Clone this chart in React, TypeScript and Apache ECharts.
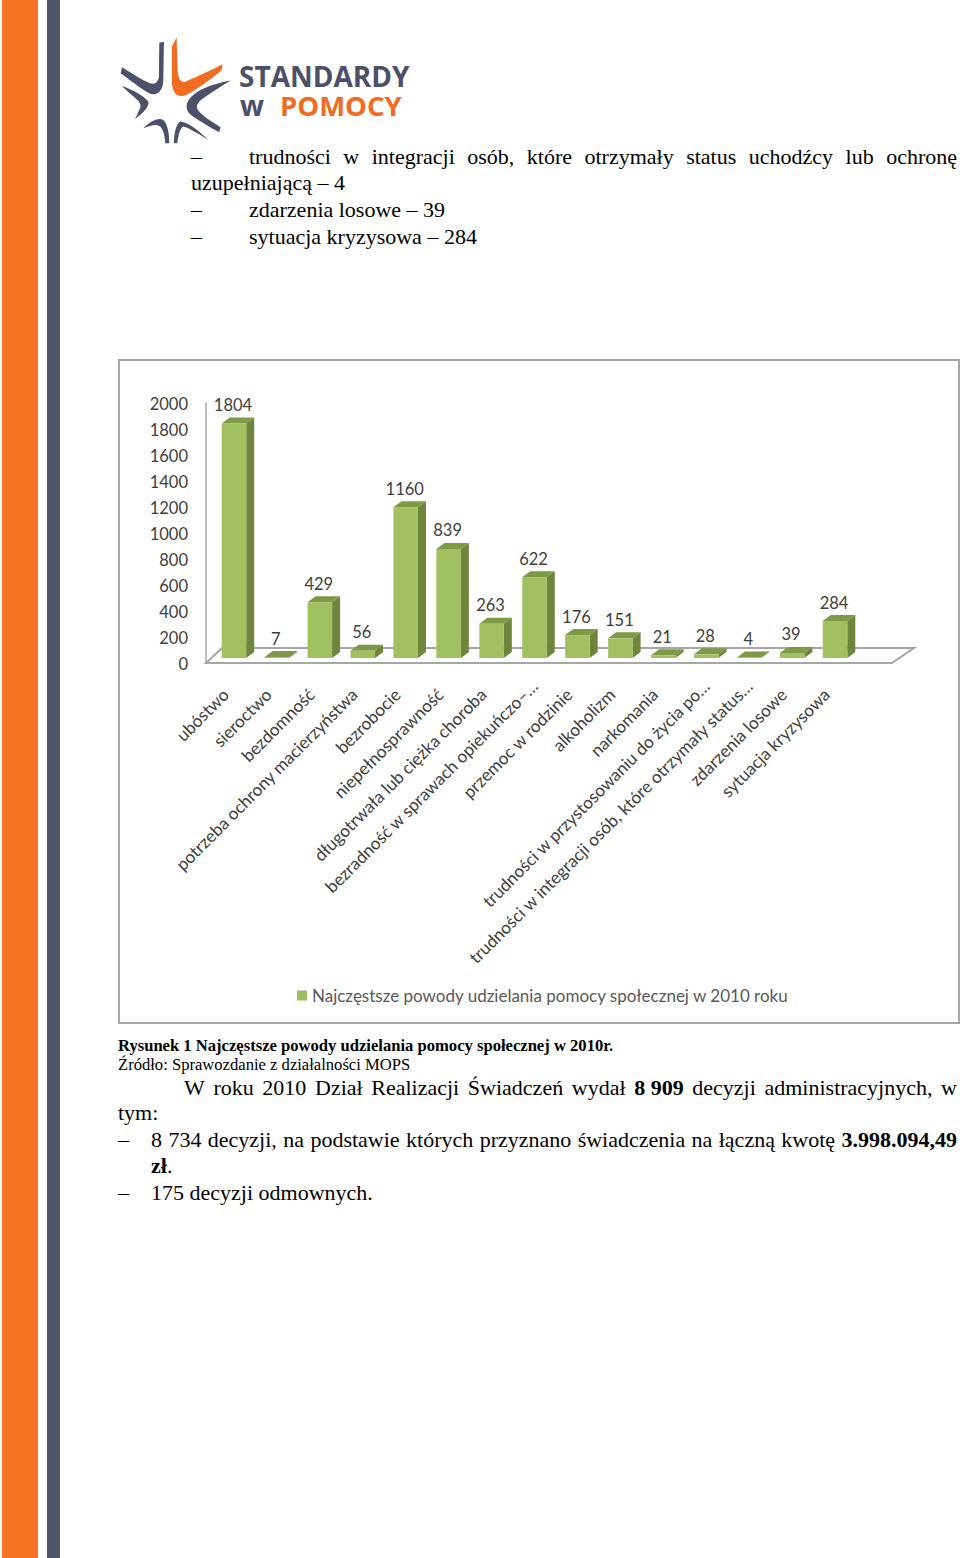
import React, { useEffect, useRef } from "react";
import * as echarts from "echarts";

const categories = ["ubóstwo","sieroctwo","bezdomność","potrzeba ochrony macierzyństwa","bezrobocie","niepełnosprawność","długotrwała lub ciężka choroba","bezradność w sprawach opiekuńczo–…","przemoc w rodzinie","alkoholizm","narkomania","trudności w przystosowaniu do życia po…","trudności w integracji osób, które otrzymały status…","zdarzenia losowe","sytuacja kryzysowa"];
const values = [1804,7,429,56,1160,839,263,622,176,151,21,28,4,39,284];
const seriesName = "Najczęstsze powody udzielania pomocy społecznej w 2010 roku";

type Run = [string, boolean?];
const SERIF = "'Liberation Serif'";
const BODY = 22;
const SMALL = 16.6;

const logoOrange = "M216 80 L230 52 L233 140 C233 175 240 190 258 185 C290 170 335 150 368 133 L366 150 C330 180 290 210 258 225 C235 235 218 222 216 190 Z";
const logoA = "M178 68 L192 65 L190 185 C188 215 170 230 148 220 C120 205 90 180 62 160 L66 142 C95 160 125 180 150 190 C168 195 175 185 177 170 Z";
const logoB = "M392 182 C350 190 300 205 275 230 C255 250 255 272 275 287 C300 305 335 325 358 337 L362 322 C335 305 310 290 295 272 C285 258 295 245 310 235 C335 218 365 198 392 182 Z";
const logoC = "M65 198 C95 208 130 225 145 245 C150 258 130 280 105 298 L118 270 C125 258 122 248 110 238 C95 225 80 212 65 198 Z";
const logoD = "M130 325 C150 305 175 292 190 300 C205 315 208 345 208 370 L196 370 C194 345 190 325 178 318 C165 312 150 318 130 325 Z";
const logoE = "M222 370 C222 340 228 315 240 305 C262 305 300 335 325 360 C300 345 270 325 250 320 C240 325 236 345 232 370 Z";
[["lo",logoOrange],["la",logoA],["lb",logoB],["lc",logoC],["ld",logoD],["le",logoE]].forEach(([n,d]) =>
  echarts.graphic.registerShape(n, echarts.graphic.extendPath(d as any, {}) as any));

function justify(runs: Run[], x0: number, x1: number | null, y: number, size = BODY) {
  const ctx = document.createElement("canvas").getContext("2d")!;
  const font = (b?: boolean) => `${b ? "bold " : ""}${size}px ${SERIF}`;
  const widths = runs.map(([t, b]) => { ctx.font = font(b); return ctx.measureText(t).width; });
  const total = widths.reduce((a, b) => a + b, 0);
  ctx.font = font();
  const gap = x1 === null ? ctx.measureText(" ").width : (x1 - x0 - total) / (runs.length - 1);
  let x = x0;
  return runs.map(([t, b], i) => {
    const el = { type: "text", x, y, z: 5, style: { text: t, font: font(b), fill: "#000", verticalAlign: "middle", textVerticalAlign: "middle" } };
    x += widths[i] + gap;
    return el;
  });
}
const w = (s: string, b?: boolean): Run[] => s.split(" ").map((t) => [t, b] as Run);

export default function App() {
  const ref = useRef<HTMLDivElement>(null);
  useEffect(() => {
    const chart = echarts.init(ref.current!, null, { renderer: "svg" });
    const logo = (shape: string, fill: string) => ({ type: shape, x: 100, y: 20, scaleX: 1 / 3, scaleY: 1 / 3, style: { fill } });
    const graphic: any[] = [
      { type: "rect", shape: { x: 2, y: 0, width: 36, height: 1558 }, style: { fill: "#F47321" } },
      { type: "rect", shape: { x: 47, y: 0, width: 13, height: 1558 }, style: { fill: "#4F5468" } },
      logo("lo", "#F26B22"), logo("la", "#4C5068"), logo("lb", "#4C5068"), logo("lc", "#4C5068"), logo("ld", "#4C5068"), logo("le", "#4C5068"),
      { type: "text", x: 239, y: 76, style: { text: "STANDARDY", font: "700 28px 'Open Sans'", fill: "#4C5068", verticalAlign: "middle", textVerticalAlign: "middle" } },
      { type: "text", x: 240, y: 105, style: { text: "w", font: "700 28px 'Open Sans'", fill: "#4C5068", verticalAlign: "middle", textVerticalAlign: "middle" } },
      { type: "text", x: 280, y: 105, style: { text: "POMOCY", font: "700 27.5px 'Open Sans'", fill: "#F26B22", verticalAlign: "middle", textVerticalAlign: "middle" } },
      ...justify([["–"]], 191, null, 156.5),
      ...justify(w("trudności w integracji osób, które otrzymały status uchodźcy lub ochronę"), 249, 957, 156.5),
      ...justify(w("uzupełniającą – 4"), 191, null, 182.5),
      ...justify([["–"]], 191, null, 209.5),
      ...justify(w("zdarzenia losowe – 39"), 249, null, 209.5),
      ...justify([["–"]], 191, null, 236.5),
      ...justify(w("sytuacja kryzysowa – 284"), 249, null, 236.5),
      { type: "rect", shape: { x: 119, y: 360, width: 840, height: 663 }, z: 0, style: { fill: "#fff", stroke: "#A6A6A6", lineWidth: 2 } },
      { type: "polygon", z: 1, shape: { points: [[206, 663], [222, 648], [914, 648], [892, 663]] }, style: { fill: "#fff", stroke: "#A6A6A6", lineWidth: 2 } },
      ...justify(w("Rysunek 1 Najczęstsze powody udzielania pomocy społecznej w 2010r.", true), 118, null, 1045.5, SMALL),
      ...justify(w("Źródło: Sprawozdanie z działalności MOPS"), 118, null, 1064.5, SMALL),
      ...justify([...w("W roku 2010 Dział Realizacji Świadczeń wydał"), ["8 909", true] as Run, ...w("decyzji administracyjnych, w")], 184, 957, 1087),
      ...justify(w("tym:"), 118, null, 1112.5),
      ...justify([["–"]], 118, null, 1139.5),
      ...justify([...w("8 734 decyzji, na podstawie których przyznano świadczenia na łączną kwotę"), ...w("3.998.094,49", true)], 151, 957, 1139.5),
      ...justify([["zł", true]], 151, null, 1165.5),
      { type: "text", x: 167, y: 1165.5, z: 5, style: { text: ".", font: `${BODY}px ${SERIF}`, fill: "#000", verticalAlign: "middle", textVerticalAlign: "middle" } },
      ...justify([["–"]], 118, null, 1192.5),
      ...justify(w("175 decyzji odmownych."), 151, null, 1192.5),
    ];
    const labelBase = { fontFamily: "Lato", fontSize: 17.2, color: "#404040" };
    chart.setOption({
      animation: false,
      backgroundColor: "#fff",
      graphic: { elements: graphic },
      legend: {
        left: 292, top: 982, data: [seriesName], itemWidth: 10, itemHeight: 10, itemGap: 5, icon: "rect",
        textStyle: { fontFamily: "Lato", fontSize: 17, color: "#595959" },
      },
      grid: { left: 212.5, width: 644, top: 403, height: 260 },
      xAxis: {
        type: "category", data: categories, axisLine: { show: false }, axisTick: { show: false },
        axisLabel: {
          interval: 0, rotate: 45, margin: 20, ...labelBase,
          formatter: (s: string) => (s.endsWith("…") ? `{cut|${s}}` : `{full|${s}}`),
          rich: {
            cut: { ...labelBase, padding: [0, 0, 0, 0] },
            full: { ...labelBase, padding: [0, 12, 0, 0] },
          },
        },
      },
      yAxis: {
        type: "value", min: 0, max: 2000, interval: 200, offset: 6.5,
        axisLine: { show: true, lineStyle: { color: "#A6A6A6", width: 1.5 } }, axisTick: { show: false }, splitLine: { show: false },
        axisLabel: {
          margin: 18, fontFamily: "Lato", fontSize: 16.5, color: "#404040",
          formatter: (v: number) => `{n|${v}}`,
          rich: { n: { fontFamily: "Lato", fontSize: 16.5, color: "#404040", padding: [2, 0, 0, 0] } },
        },
      },
      series: [{
        type: "custom", name: seriesName, z: 3,
        itemStyle: { color: "#9EBD5C" },
        encode: { x: 0, y: 1 },
        data: values.map((v, i) => [i, v]),
        renderItem: (_p: any, api: any) => {
          const v = api.value(1);
          const p = api.coord([api.value(0), v]);
          const bw = 24.5, dx = 8, dy = 6, lift = 5;
          const l = p[0] - bw / 2, r = l + bw, t = p[1] - lift;
          const b = api.coord([api.value(0), 0])[1] - lift;
          return {
            type: "group",
            children: [
              { type: "polygon", shape: { points: [[l, t], [r, t], [r + dx, t - dy], [l + dx, t - dy]] }, style: { fill: "#7D9A46" } },
              { type: "polygon", shape: { points: [[r, t], [r + dx, t - dy], [r + dx, b - dy], [r, b]] }, style: { fill: "#6E853C" } },
              { type: "rect", shape: { x: l, y: t, width: bw, height: b - t }, style: { fill: "#A1C05F" } },
              { type: "text", x: p[0] - 1, y: t - 18.5, style: { text: String(v), font: "16.5px Lato", fill: "#404040", align: "center", verticalAlign: "middle", textAlign: "center", textVerticalAlign: "middle" } },
            ],
          };
        },
      }],
    });
    return () => chart.dispose();
  }, []);
  return <div ref={ref} style={{ position: "absolute", left: 0, top: 0, width: 960, height: 1558 }} />;
}
